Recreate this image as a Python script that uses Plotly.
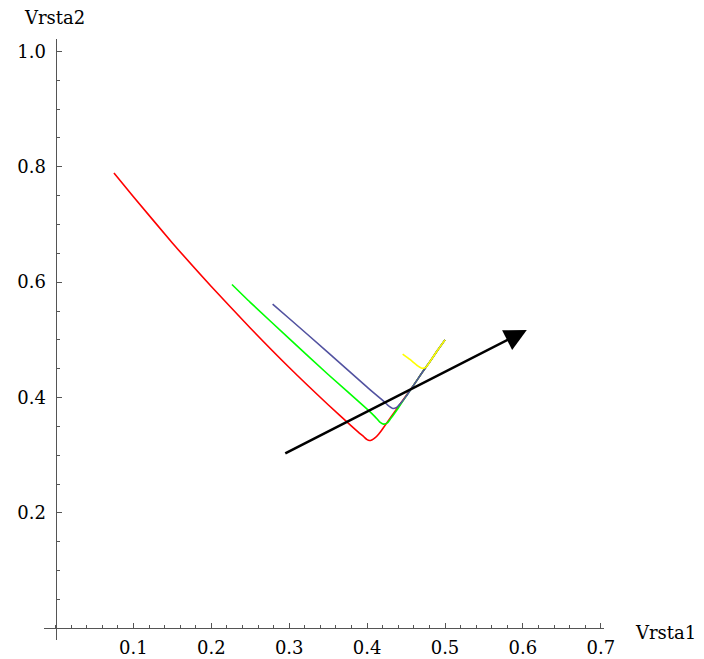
import plotly.graph_objects as go

# Curve samples (Vrsta1, Vrsta2)
red_x = [0.075, 0.10, 0.15, 0.20, 0.25, 0.30, 0.35, 0.38, 0.39, 0.395, 0.40, 0.403, 0.406, 0.41, 0.415, 0.42, 0.43, 0.44, 0.45, 0.46, 0.47, 0.48, 0.49, 0.50]
red_y = [0.789, 0.748, 0.668, 0.5925, 0.5205, 0.452, 0.3875, 0.3505, 0.3385, 0.333, 0.327, 0.3255, 0.3265, 0.330, 0.337, 0.346, 0.365, 0.384, 0.403, 0.422, 0.442, 0.461, 0.481, 0.500]

green_x = [0.2265, 0.25, 0.30, 0.35, 0.40, 0.41, 0.416, 0.421, 0.426, 0.43, 0.44, 0.45, 0.46, 0.47, 0.48, 0.49, 0.50]
green_y = [0.596, 0.565, 0.502, 0.440, 0.380, 0.367, 0.358, 0.354, 0.356, 0.363, 0.382, 0.402, 0.422, 0.442, 0.461, 0.481, 0.500]

blue_x = [0.2787, 0.30, 0.35, 0.40, 0.42, 0.428, 0.433, 0.438, 0.443, 0.45, 0.46, 0.47, 0.48, 0.49, 0.50]
blue_y = [0.562, 0.537, 0.478, 0.418, 0.395, 0.385, 0.381, 0.383, 0.390, 0.402, 0.422, 0.442, 0.461, 0.481, 0.500]

yellow_x = [0.4456, 0.455, 0.465, 0.471, 0.476, 0.48, 0.49, 0.50]
yellow_y = [0.4754, 0.466, 0.455, 0.4506, 0.453, 0.461, 0.481, 0.500]

arrow_start = (0.293, 0.302)
arrow_end = (0.605, 0.517)

x_ticks = [0.1, 0.2, 0.3, 0.4, 0.5, 0.6, 0.7]
y_ticks = [0.2, 0.4, 0.6, 0.8, 1.0]

X_RANGE = [-0.0148, 0.7041]
Y_RANGE = [-0.0202, 1.0214]

AXIS_GRAY = "#555555"

fig = go.Figure()
for xs, ys, col in [(red_x, red_y, "#ff0000"),
                    (green_x, green_y, "#00ff00"),
                    (blue_x, blue_y, "#5252a0"),
                    (yellow_x, yellow_y, "#ffff00")]:
    fig.add_trace(go.Scatter(x=xs, y=ys, mode="lines",
                             line=dict(color=col, width=1.6, shape="spline", smoothing=0.5),
                             showlegend=False, hoverinfo="skip"))

fig.add_annotation(x=arrow_end[0], y=arrow_end[1], ax=arrow_start[0], ay=arrow_start[1],
                   xref="x", yref="y", axref="x", ayref="y", text="",
                   showarrow=True, arrowhead=2, arrowsize=1.7, arrowwidth=2.6,
                   arrowcolor="black", standoff=0, startstandoff=0)

font = dict(family="DejaVu Serif", size=18, color="black")

x_pos = (0 - Y_RANGE[0]) / (Y_RANGE[1] - Y_RANGE[0])
y_pos = (0 - X_RANGE[0]) / (X_RANGE[1] - X_RANGE[0])

fig.update_xaxes(range=X_RANGE, showgrid=False, zeroline=False, automargin=False,
                 showline=True, linecolor=AXIS_GRAY, linewidth=1,
                 anchor="free", position=x_pos,
                 ticks="inside", ticklen=5, tickwidth=1, tickcolor=AXIS_GRAY,
                 tickvals=x_ticks, ticktext=[f"{v:.1f}" for v in x_ticks],
                 tickfont=font, ticklabelstandoff=3,
                 minor=dict(ticks="inside", ticklen=3, tickwidth=1, tickcolor=AXIS_GRAY,
                            tick0=0, dtick=0.02, showgrid=False))
fig.update_yaxes(range=Y_RANGE, showgrid=False, zeroline=False, automargin=False,
                 showline=True, linecolor=AXIS_GRAY, linewidth=1,
                 anchor="free", position=y_pos,
                 ticks="inside", ticklen=5, tickwidth=1, tickcolor=AXIS_GRAY,
                 tickvals=y_ticks, ticktext=[f"{v:.1f}" for v in y_ticks],
                 tickfont=font, ticklabelstandoff=6,
                 minor=dict(ticks="inside", ticklen=3, tickwidth=1, tickcolor=AXIS_GRAY,
                            tick0=0, dtick=0.05, showgrid=False))

fig.add_annotation(text="Vrsta1", xref="paper", yref="paper", x=1.11, y=0.0133,
                   xanchor="center", yanchor="middle", showarrow=False, font=font)
fig.add_annotation(text="Vrsta2", xref="paper", yref="paper", x=0.0179, y=1.0366,
                   xanchor="center", yanchor="middle", showarrow=False, font=font)

fig.update_layout(width=704, height=659,
                  margin=dict(l=44, r=100, t=39, b=19, autoexpand=False),
                  plot_bgcolor="white", paper_bgcolor="white",
                  font=font)

fig.write_html("out.html")
